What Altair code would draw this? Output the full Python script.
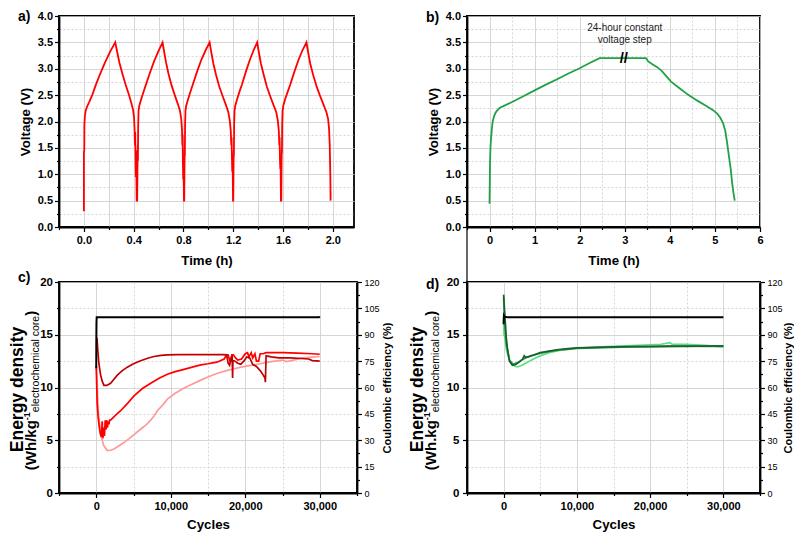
import altair as alt
import pandas as pd

FONT = "Liberation Sans"

# ---------------- a) five charge/discharge cycles ----------------
A_T_C1 = [0.000, 0.000, 0.003, 0.004, 0.008, 0.014, 0.025, 0.045, 0.070, 0.095, 0.130, 0.170, 0.210, 0.252,
          0.262, 0.285, 0.310, 0.336, 0.360, 0.380, 0.395, 0.403, 0.407, 0.410, 0.412, 0.414, 0.417, 0.420, 0.424]
A_V_C1 = [0.30, 1.42, 1.45, 1.95, 2.10, 2.20, 2.28, 2.38, 2.52, 2.69, 2.90, 3.12, 3.32, 3.50,
          3.38, 3.12, 2.90, 2.69, 2.52, 2.36, 2.22, 2.08, 1.85, 1.55, 1.80, 1.40, 0.95, 1.45, 0.50]
A_T_C2 = [0.428, 0.431, 0.433, 0.434, 0.436, 0.439, 0.445, 0.460, 0.480, 0.497, 0.530, 0.565, 0.600, 0.632,
          0.642, 0.660, 0.680, 0.705, 0.730, 0.755, 0.772, 0.782, 0.788, 0.791, 0.793, 0.795, 0.798, 0.800, 0.804]
A_V_C2 = [0.50, 1.20, 1.55, 1.25, 1.90, 2.20, 2.30, 2.42, 2.57, 2.69, 2.92, 3.15, 3.34, 3.50,
          3.36, 3.12, 2.90, 2.68, 2.50, 2.33, 2.20, 2.05, 1.85, 1.55, 1.75, 1.30, 0.90, 1.25, 0.50]
A_T_C3 = [0.806, 0.808, 0.810, 0.811, 0.813, 0.816, 0.822, 0.838, 0.858, 0.875, 0.910, 0.945, 0.980, 1.010,
          1.020, 1.040, 1.062, 1.088, 1.115, 1.140, 1.160, 1.172, 1.180, 1.184, 1.186, 1.189, 1.192, 1.195, 1.198]
A_V_C3 = [0.50, 1.10, 1.50, 1.35, 1.95, 2.20, 2.30, 2.43, 2.58, 2.70, 2.95, 3.18, 3.36, 3.50,
          3.36, 3.10, 2.88, 2.66, 2.48, 2.32, 2.18, 2.02, 1.82, 1.55, 1.70, 1.35, 1.05, 1.30, 0.50]
A_T_C4 = [1.200, 1.202, 1.204, 1.205, 1.207, 1.210, 1.216, 1.232, 1.252, 1.270, 1.302, 1.335, 1.365, 1.392,
          1.402, 1.422, 1.445, 1.470, 1.497, 1.522, 1.545, 1.558, 1.566, 1.570, 1.572, 1.575, 1.578, 1.580, 1.583]
A_V_C4 = [0.50, 1.10, 1.45, 1.35, 1.95, 2.20, 2.30, 2.43, 2.58, 2.70, 2.95, 3.18, 3.36, 3.50,
          3.36, 3.10, 2.88, 2.66, 2.48, 2.32, 2.18, 2.02, 1.82, 1.55, 1.70, 1.30, 1.10, 1.25, 0.50]
A_T_C5 = [1.586, 1.588, 1.590, 1.591, 1.593, 1.596, 1.602, 1.618, 1.640, 1.658, 1.692, 1.726, 1.758, 1.788,
          1.798, 1.818, 1.842, 1.870, 1.898, 1.925, 1.948, 1.962, 1.970, 1.975, 1.978, 1.980, 1.982]
A_V_C5 = [0.50, 1.15, 1.50, 1.40, 1.95, 2.20, 2.30, 2.43, 2.58, 2.70, 2.95, 3.18, 3.36, 3.50,
          3.36, 3.10, 2.88, 2.66, 2.48, 2.32, 2.18, 2.05, 1.85, 1.55, 1.20, 0.95, 0.50]

# ---------------- b) single cycle with 24 h constant-voltage step ----------------
B_T = [0.00, 0.005, 0.01, 0.02, 0.035, 0.05, 0.07, 0.10, 0.13, 0.17, 0.23, 0.33, 0.50, 0.75, 1.00, 1.25,
       1.50, 1.75, 2.00, 2.20, 2.44, 3.47, 3.52, 3.62, 3.72, 3.82, 3.92, 4.02, 4.20, 4.40, 4.60, 4.80,
       4.95, 5.05, 5.12, 5.18, 5.23, 5.27, 5.31, 5.35, 5.38, 5.41, 5.44]
B_V = [0.44, 0.84, 1.20, 1.50, 1.70, 1.85, 2.00, 2.10, 2.16, 2.21, 2.26, 2.30, 2.37, 2.48, 2.59, 2.70,
       2.80, 2.91, 3.01, 3.10, 3.20, 3.20, 3.14, 3.08, 3.03, 2.96, 2.86, 2.76, 2.64, 2.51, 2.40, 2.30,
       2.22, 2.15, 2.07, 1.97, 1.82, 1.60, 1.35, 1.10, 0.85, 0.65, 0.50]
B_NOTE_X = [3.0, 3.0]
B_NOTE_Y = [3.77, 3.55]
B_NOTE_TXT = ["24-hour constant", "voltage step"]

# ---------------- c) red cells: energy density + coulombic efficiency ----------------
C_DARK_X = [100, 200, 350, 580, 800, 1030, 1400, 1930, 2400, 2830, 3500, 4170, 5000, 5960, 7000, 7760, 8700,
            9550, 11000, 13000, 15000, 17000, 17500, 17700, 17900, 18100, 18250, 18300, 18350, 18600, 19000,
            19400, 19800, 20200, 20600, 21000, 21500, 22000, 22400, 22650, 22700, 22800, 23500, 24500, 26000,
            27500, 28500, 29000, 30000]
C_DARK_Y = [14.7, 13.6, 12.3, 11.2, 10.6, 10.2, 10.2, 10.4, 10.8, 11.17, 11.6, 11.93, 12.25, 12.54, 12.8, 12.94,
            13.04, 13.09, 13.12, 13.12, 13.12, 13.12, 13.1, 12.3, 12.1, 12.8, 12.9, 10.9, 12.6, 12.5, 12.3,
            12.2, 12.5, 12.9, 12.8, 12.2, 12.0, 11.6, 11.2, 10.9, 10.5, 13.0, 12.9, 12.8, 12.8,
            12.75, 12.7, 12.55, 12.5]
C_RED_X = [0, 50, 120, 250, 400, 550, 700, 800, 900, 1000, 1100, 1200, 1300, 1400, 1500, 1600, 1700, 1800,
           1930, 2500, 3270, 4200, 5070, 6200, 7310, 8500, 9550, 10600, 11790, 13000, 14040, 15000, 15600,
           16200, 17170, 17500, 17700, 18000, 18200, 18400, 18700, 19000, 19500, 20000, 20300, 20500, 20800,
           21000, 21300, 21500, 21800, 22000, 22400, 22800, 23000, 25000, 27000, 29000, 30000]
C_RED_Y = [12.0, 10.5, 8.5, 7.2, 6.3, 5.6, 5.3, 6.8, 5.2, 6.2, 5.4, 6.9, 6.0, 6.9, 6.2, 6.8, 6.5, 6.9,
           6.9, 7.3, 7.8, 8.5, 9.2, 9.9, 10.4, 10.9, 11.26, 11.5, 11.72, 11.95, 12.15, 12.25, 12.33,
           12.4, 12.7, 13.1, 13.1, 12.4, 13.1, 13.1, 12.8, 12.6, 12.7, 13.2, 13.3, 12.9, 13.3,
           12.8, 13.2, 12.5, 12.5, 13.2, 13.2, 13.3, 13.3, 13.3, 13.25, 13.2, 13.15]
C_PINK_X = [0, 100, 200, 300, 450, 600, 800, 1000, 1480, 1900, 2380, 3000, 3720, 4400, 5070, 5700, 6410, 6900,
            7310, 7800, 8200, 9000, 9550, 10600, 11790, 13000, 14040, 15000, 16280, 17500, 18520, 19600, 20760,
            22000, 23000, 24000, 25000, 25500, 26200, 27490, 28500, 30000]
C_PINK_Y = [12.0, 11.0, 9.0, 7.5, 6.6, 5.6, 5.0, 4.5, 4.02, 4.05, 4.17, 4.45, 4.78, 5.15, 5.54, 5.9, 6.3, 6.6,
            6.9, 7.35, 7.8, 8.4, 8.9, 9.45, 9.95, 10.35, 10.7, 11.0, 11.35, 11.6, 11.78, 11.95, 12.1,
            12.25, 12.4, 12.5, 12.6, 12.45, 12.55, 12.78, 12.85, 12.94]
C_CE_X = [0, 10, 30, 60, 100, 1000, 5000, 10000, 15000, 20000, 25000, 29900, 30000]
C_CE_Y = [71, 85, 97, 100, 100, 100, 100, 100, 100, 100, 100, 100, 100.5]

# ---------------- d) green cells ----------------
D_DARK_X = [0, 100, 200, 350, 500, 800, 1200, 1700, 2200, 2600, 2800, 3000, 3500, 4200, 5000, 6200, 7500,
            8800, 10000, 12500, 15000, 17500, 20000, 22500, 25000, 27500, 30000]
D_DARK_Y = [18.8, 17.6, 16.5, 14.8, 13.8, 12.5, 12.1, 12.2, 12.45, 12.7, 13.0, 12.85, 12.95, 13.1, 13.3, 13.45,
            13.6, 13.68, 13.75, 13.8, 13.85, 13.88, 13.9, 13.92, 13.9, 13.92, 13.95]
D_MID_X = [0, 80, 150, 300, 400, 800, 1300, 2000, 2500, 3000, 4000, 5000, 6500, 7500, 8800, 10000, 12500,
           15000, 17500, 20000, 22500, 25000, 27500, 30000]
D_MID_Y = [18.5, 17.2, 16.0, 14.6, 14.0, 12.6, 12.2, 12.4, 12.6, 12.8, 13.05, 13.25, 13.45, 13.55, 13.62, 13.7,
           13.76, 13.8, 13.85, 13.85, 13.9, 13.95, 13.9, 13.9]
D_LIGHT_X = [0, 30, 60, 150, 250, 400, 700, 1000, 1500, 1900, 2500, 3000, 3500, 4200, 5000, 6200, 7500, 8800,
             10000, 12500, 15000, 17500, 20000, 21500, 22700, 23000, 25000, 27500, 30000]
D_LIGHT_Y = [16.3, 15.6, 15.0, 14.8, 14.3, 13.5, 12.8, 12.3, 12.05, 11.95, 12.1, 12.3, 12.5, 12.75, 13.0, 13.3,
             13.5, 13.65, 13.72, 13.82, 13.9, 13.98, 14.05, 14.1, 14.25, 14.1, 14.08, 14.0, 13.85]
D_CE_X = [0, 15, 40, 100, 500, 5000, 10000, 15000, 20000, 25000, 30000]
D_CE_Y = [96, 99, 100.8, 100.3, 100, 100, 100, 100, 100, 100, 100]

# ---------------- ticks ----------------
A_XTICKS = [-0.2, 0.0, 0.2, 0.4, 0.6, 0.8, 1.0, 1.2, 1.4, 1.6, 1.8, 2.0]
B_XTICKS = [-0.5, 0, 0.5, 1, 1.5, 2, 2.5, 3, 3.5, 4, 4.5, 5, 5.5, 6]
V_TICKS = [0, 0.25, 0.5, 0.75, 1, 1.25, 1.5, 1.75, 2, 2.25, 2.5, 2.75, 3, 3.25, 3.5, 3.75, 4]
CYC_TICKS = [-5000, 0, 5000, 10000, 15000, 20000, 25000, 30000, 35000]
E_TICKS = [0, 2.5, 5, 7.5, 10, 12.5, 15, 17.5, 20]
CE_TICKS = [0, 7.5, 15, 22.5, 30, 37.5, 45, 52.5, 60, 67.5, 75, 82.5, 90, 97.5, 105, 112.5, 120]

# ---------------- layout ----------------
H = 211
W_A, W_C, W_R = 295, 298, 293
LBL = 11
TTL = 13.3


def cond(test, a, b):
    return {"condition": {"test": test, "value": a}, "value": b}


def frame(xs, ys):
    return pd.DataFrame({"x": xs, "y": ys, "i": list(range(len(xs)))})


def one():
    return pd.DataFrame({"k": [0]})


def txt(s, x, y, size, weight="bold", angle=0, align="left", baseline="alphabetic"):
    return alt.Chart(one()).mark_text(
        text=s, fontSize=size, fontWeight=weight, angle=angle, align=align,
        baseline=baseline, color="black", font=FONT
    ).encode(x=alt.value(x), y=alt.value(y))


# Arial / Liberation Sans advance widths (per 1000 em) for title pieces
BOLD_W = {"(": 333, "W": 944, "h": 611, "/": 278, ".": 278, "k": 556, "g": 611, ")": 333, "-": 333, "1": 556}
REG_W = {"e": 556, "l": 222, "c": 500, "t": 278, "r": 333, "o": 556, "h": 556, "m": 833, "i": 222, "a": 556, " ": 278}


def tw(s, table, size):
    return sum(table[c] for c in s) / 1000.0 * size


def energy_title(xl1, xb, sep):
    parts = [("(Wh" + sep + "kg", "bold", 15, 0, BOLD_W),
             ("-1", "bold", 9, -6, BOLD_W),
             ("electrochemical core", "normal", 10.5, 3, REG_W),
             (")", "bold", 15, 0, BOLD_W)]
    widths = [tw(p[0], p[4], p[2]) for p in parts]
    y0 = H / 2 + 3 + sum(widths) / 2
    layers = [txt("Energy density", xl1, H / 2 + 2, 17.5, angle=270, align="center", baseline="middle")]
    acc = 0.0
    for (s, wgt, size, dx, _), w in zip(parts, widths):
        layers.append(txt(s, xb + dx, y0 - acc, size, weight=wgt, angle=270, align="left"))
        acc += w
    return layers


# ---------------- axes ----------------
def volt_axis():
    return alt.Axis(values=V_TICKS, labelExpr="datum.value % 0.5 == 0 ? format(datum.value, '.1f') : ''",
                    tickSize=cond("datum.value % 0.5 != 0", 2.5, 4.5),
                    gridDash=cond("datum.value % 0.5 != 0", [2, 2], []),
                    labelPadding=2, labelOverlap=False,
                    title="Voltage (V)", titleX=-34, titleY=H / 2, titleAngle=270,
                    titleBaseline="middle", titleAlign="center")


def cyc_axis(w):
    return alt.Axis(values=CYC_TICKS, format=",d",
                    labelExpr="datum.value % 10000 == 0 ? datum.label : ''",
                    tickSize=cond("datum.value % 10000 != 0", 2.5, 4.5),
                    gridDash=cond("datum.value % 10000 != 0", [2, 2], []),
                    labelPadding=3, labelFlush=False, labelOverlap=False,
                    title="Cycles", titleX=w / 2, titleY=31.7, titleBaseline="middle", titleAlign="center")


def e_axis(pad):
    return alt.Axis(values=E_TICKS, format="d", labelExpr="datum.value % 5 == 0 ? datum.label : ''",
                    tickSize=cond("datum.value % 5 != 0", 2.5, 4.5),
                    gridDash=cond("datum.value % 5 != 0", [2, 2], []),
                    labelPadding=pad, labelOverlap=False, labelFontSize=11.5, title=None)


def ce_axis(tx):
    return alt.Axis(orient="right", values=CE_TICKS, format="d",
                    labelExpr="datum.value % 15 == 0 ? datum.label : ''",
                    tickSize=cond("datum.value % 15 != 0", 2.5, 4.5),
                    grid=False, labelFontWeight="normal", labelFontSize=9, labelPadding=2.5,
                    labelOverlap=False,
                    title="Coulombic efficiency (%)", titleX=tx, titleY=H / 2, titleAngle=270,
                    titleBaseline="middle", titleAlign="center", titleFontSize=11)


VSCALE = alt.Scale(domain=[0, 4], nice=False, zero=False)
CSCALE = alt.Scale(domain=[-5000, 35000], nice=False, zero=False)
ESCALE = alt.Scale(domain=[0, 20], nice=False, zero=False)
CESCALE = alt.Scale(domain=[0, 120], nice=False, zero=False)

# ---------------- panel a ----------------
a_x = alt.X("x:Q", scale=alt.Scale(domain=[-0.2, 2.17], nice=False, zero=False),
            axis=alt.Axis(values=A_XTICKS,
                          labelExpr="abs(round(datum.value*10)) % 4 == 0 ? format(datum.value, '.1f') : ''",
                          tickSize=cond("abs(round(datum.value*10)) % 4 != 0", 2.5, 4.5),
                          labelPadding=3, labelFlush=False, labelOverlap=False,
                          title="Time (h)", titleX=W_A / 2, titleY=33, titleBaseline="middle", titleAlign="center"))
a_y = alt.Y("y:Q", scale=VSCALE, axis=volt_axis())
df_a = frame(A_T_C1 + A_T_C2 + A_T_C3 + A_T_C4 + A_T_C5, A_V_C1 + A_V_C2 + A_V_C3 + A_V_C4 + A_V_C5)
line_a = alt.Chart(df_a).mark_line(color="#ff0000", strokeWidth=1.8).encode(x=a_x, y=a_y, order="i:Q")
panel_a = alt.layer(line_a, txt("a)", -41, 4.5, 14)).properties(width=W_A, height=H)

# ---------------- panel b ----------------
b_x = alt.X("x:Q", scale=alt.Scale(domain=[-0.5, 6], nice=False, zero=False),
            axis=alt.Axis(values=B_XTICKS, labelExpr="datum.value % 1 == 0 ? format(datum.value, 'd') : ''",
                          tickSize=cond("datum.value % 1 != 0", 2.5, 4.5),
                          gridDash=cond("datum.value % 1 != 0", [2, 2], []),
                          labelPadding=3, labelFlush=False, labelOverlap=False,
                          title="Time (h)", titleX=W_R / 2, titleY=33, titleBaseline="middle", titleAlign="center"))
b_y = alt.Y("y:Q", scale=VSCALE, axis=volt_axis())
line_b = alt.Chart(frame(B_T, B_V)).mark_line(color="#22a045", strokeWidth=1.8).encode(x=b_x, y=b_y, order="i:Q")
note_b = alt.Chart(pd.DataFrame({"x": B_NOTE_X, "y": B_NOTE_Y, "t": B_NOTE_TXT})).mark_text(
    fontSize=10, font=FONT, color="#222222", baseline="middle").encode(x=b_x, y=b_y, text="t:N")
brk_b = alt.Chart(pd.DataFrame({"x": [2.98], "y": [3.2], "t": ["//"]})).mark_text(
    fontSize=15, fontWeight="bold", font=FONT, color="black", baseline="middle").encode(x=b_x, y=b_y, text="t:N")
rule_b = alt.Chart(one()).mark_rule(color="black", strokeWidth=1.2).encode(
    x=alt.value(0), y=alt.value(H), y2=alt.value(H + 55))
panel_b = alt.layer(line_b, note_b, brk_b, rule_b, txt("b)", -41, 5.5, 14)).properties(width=W_R, height=H)


# ---------------- panels c and d ----------------
def cycling_panel(series, ce_x, ce_y, w, lab, lab_y, xl1, xb, sep, epad, cetx):
    cx = alt.X("x:Q", scale=CSCALE, axis=cyc_axis(w))
    ey = alt.Y("y:Q", scale=ESCALE, axis=e_axis(epad))
    left = alt.layer(*[
        alt.Chart(frame(xs, ys)).mark_line(color=col, strokeWidth=1.7).encode(x=cx, y=ey, order="i:Q")
        for xs, ys, col in series
    ])
    ce = alt.Chart(frame(ce_x, ce_y)).mark_line(color="black", strokeWidth=2).encode(
        x=cx, y=alt.Y("y:Q", scale=CESCALE, axis=ce_axis(cetx)), order="i:Q")
    return alt.layer(left, ce, txt(lab, -41, lab_y, 14), *energy_title(xl1, xb, sep)).resolve_scale(
        y="independent").properties(width=w, height=H)


panel_c = cycling_panel([(C_PINK_X, C_PINK_Y, "#ff9a9a"), (C_RED_X, C_RED_Y, "#ff0000"),
                         (C_DARK_X, C_DARK_Y, "#c00000")],
                        C_CE_X, C_CE_Y, W_C, "c)", 0, -41, -23, "/", 2, 30)
panel_d = cycling_panel([(D_LIGHT_X, D_LIGHT_Y, "#5fdc7f"), (D_MID_X, D_MID_Y, "#27a34c"),
                         (D_DARK_X, D_DARK_Y, "#1b5e32")],
                        D_CE_X, D_CE_Y, W_R, "d)", 7, -49.5, -31, ".", 3.5, 28)

chart = alt.concat(panel_a, panel_b, panel_c, panel_d, columns=2,
                   spacing={"row": 55, "column": 110}, bounds="flush").properties(padding=0).configure(
    font=FONT
).configure_view(
    stroke="black", strokeWidth=1.8
).configure_axis(
    labelFont=FONT, titleFont=FONT, labelColor="black", titleColor="black",
    labelFontWeight="bold", titleFontWeight="bold", labelFontSize=LBL, titleFontSize=TTL,
    domainColor="black", domainWidth=1.8, tickColor="black", tickWidth=1.2,
    gridColor="#cccccc", gridWidth=0.8
)

chart.save("out.html", embed_options={"renderer": "svg", "actions": False})
